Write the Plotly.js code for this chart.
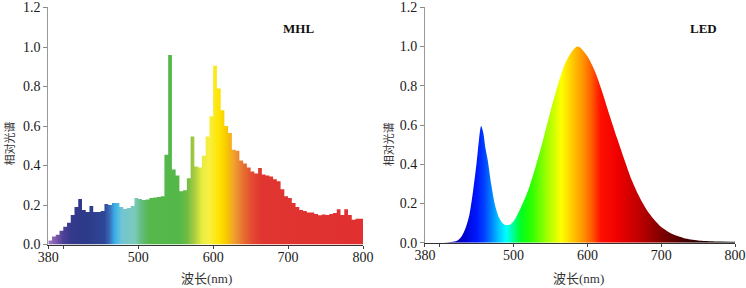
<!DOCTYPE html>
<html>
<head>
<meta charset="utf-8">
<script src="https://cdn.plot.ly/plotly-3.0.1.min.js"></script>
<style>html,body{margin:0;padding:0;background:#fff;}#chart{width:746px;height:288px;}</style>
</head>
<body>
<div id="chart"></div>
<script>
// ---------- data ----------
// MHL: relative spectrum in 5 nm bins, bin starts 380..795 nm
const mhlStart = 380;
const mhlBinWidth = 5;
const mhlValues = [
  0.02, 0.04, 0.05, 0.07, 0.09, 0.11, 0.15, 0.19, 0.23, 0.175,
  0.165, 0.195, 0.165, 0.165, 0.17, 0.205, 0.20, 0.21, 0.21, 0.19,
  0.18, 0.185, 0.195, 0.235, 0.23, 0.225, 0.228, 0.235, 0.238, 0.24,
  0.245, 0.455, 0.96, 0.38, 0.35, 0.27, 0.275, 0.335, 0.547, 0.395,
  0.39, 0.45, 0.547, 0.65, 0.905, 0.79, 0.68, 0.60, 0.565, 0.48,
  0.475, 0.425, 0.41, 0.39, 0.37, 0.36, 0.388, 0.355, 0.35, 0.345,
  0.33, 0.32, 0.28, 0.245, 0.235, 0.21, 0.19, 0.175, 0.17, 0.162,
  0.162, 0.155, 0.148, 0.152, 0.15, 0.155, 0.16, 0.178, 0.15, 0.178,
  0.15, 0.125, 0.13, 0.13
];
// LED: relative spectrum sampled at wavelengths
const ledWavelengths = [380, 400, 410, 420, 425, 430, 435, 440, 445, 450, 453, 456, 459, 462, 465, 470, 475, 480, 485, 490, 495, 500, 510, 520, 530, 540, 550, 560, 570, 580, 586, 590, 600, 610, 620, 630, 640, 650, 660, 670, 680, 690, 700, 710, 720, 730, 740, 750, 760, 780, 800];
const ledValues      = [0.0, 0.0, 0.002, 0.006, 0.014, 0.035, 0.075, 0.14, 0.26, 0.41, 0.52, 0.595, 0.56, 0.48, 0.42, 0.29, 0.19, 0.13, 0.10, 0.09, 0.092, 0.11, 0.18, 0.27, 0.39, 0.525, 0.67, 0.805, 0.915, 0.98, 1.0, 0.995, 0.95, 0.875, 0.77, 0.65, 0.535, 0.425, 0.32, 0.237, 0.17, 0.12, 0.08, 0.055, 0.037, 0.025, 0.017, 0.012, 0.009, 0.006, 0.005];

const xTickVals = [380, 400, 500, 600, 700, 800];
const xTickText = ['380', '', '500', '600', '700', '800'];
const yTickVals = [0, 0.2, 0.4, 0.6, 0.8, 1.0, 1.2];
const yTickText = ['0.0', '0.2', '0.4', '0.6', '0.8', '1.0', '1.2'];

// colour stops (wavelength -> colour)
const mhlStopNm  = [380, 390, 400, 410, 430, 455, 462, 468, 472, 478, 495, 505, 515, 555, 565, 575, 585, 595, 608, 618, 628, 640, 652, 665, 800];
const mhlStopCol = ['#a27ec2', '#7c5aaa', '#4c4096', '#35398c', '#2c3a88', '#2f4696', '#3a6cb8', '#3aaae6', '#4ab8e6', '#72c4d2', '#7ccabc', '#62bc7a', '#56b84c', '#54b848', '#6cbc44', '#a8cc40', '#e8ec40', '#f8f040', '#ffe400', '#f8c800', '#f0a030', '#e87030', '#e24a30', '#e03530', '#e03030'];
const ledStopNm  = [380, 410, 430, 450, 460, 470, 480, 490, 500, 510, 525, 545, 565, 580, 595, 605, 618, 640, 670, 700, 730, 760, 800];
const ledStopCol = ['#300050', '#2000a0', '#0000c8', '#0018ff', '#0040ff', '#0080ff', '#00c8ff', '#00ffff', '#00ff90', '#00ff20', '#30ff00', '#a0ff00', '#ffff00', '#ffc800', '#ff9000', '#ff6000', '#ff1000', '#f00000', '#c00000', '#800000', '#4a0000', '#200000', '#000000'];

const X_MIN = 380, X_MAX = 800;
function scale(nm, cols) {
  return nm.map((v, i) => [(v - X_MIN) / (X_MAX - X_MIN), cols[i]]);
}

// step outline for MHL bins
const mhlX = mhlValues.map((v, i) => mhlStart + i * mhlBinWidth);
mhlX.push(mhlStart + mhlValues.length * mhlBinWidth);
const mhlY = mhlValues.slice();
mhlY.push(mhlValues[mhlValues.length - 1]);

const traces = [
  {
    type: 'scatter', mode: 'lines', x: mhlX, y: mhlY, xaxis: 'x', yaxis: 'y',
    line: {shape: 'hv', width: 0, color: 'rgba(0,0,0,0)'},
    fill: 'tozeroy',
    fillgradient: {type: 'horizontal', start: X_MIN, stop: X_MAX, colorscale: scale(mhlStopNm, mhlStopCol)},
    hoverinfo: 'skip', showlegend: false
  },
  {
    type: 'scatter', mode: 'lines', x: ledWavelengths, y: ledValues, xaxis: 'x2', yaxis: 'y2',
    line: {shape: 'spline', smoothing: 0.8, width: 0, color: 'rgba(0,0,0,0)'},
    fill: 'tozeroy',
    fillgradient: {type: 'horizontal', start: X_MIN, stop: X_MAX, colorscale: scale(ledStopNm, ledStopCol)},
    hoverinfo: 'skip', showlegend: false
  }
];

const FAM = 'Liberation Serif, Times New Roman, Noto Sans CJK SC, serif';
const font = {family: FAM, size: 14, color: '#1a1a1a'};
function xa(domain, anchor) {
  return {
    domain: domain, anchor: anchor, range: [X_MIN, X_MAX],
    tickmode: 'array', tickvals: xTickVals, ticktext: xTickText,
    ticks: 'outside', ticklen: 3, tickcolor: '#444', tickwidth: 1,
    ticklabelstandoff: -4,
    showline: true, linecolor: '#333', linewidth: 1.5,
    showgrid: false, zeroline: false, tickfont: font, fixedrange: true
  };
}
function ya(domain, anchor) {
  return {
    domain: domain, anchor: anchor, range: [0, 1.2004],
    tickmode: 'array', tickvals: yTickVals, ticktext: yTickText,
    ticks: 'outside', ticklen: 4, tickcolor: '#888', tickwidth: 1,
    showline: true, linecolor: '#999', linewidth: 1,
    showgrid: false, zeroline: false, tickfont: font, fixedrange: true
  };
}

function note(text, x, y, size, color, angle) {
  return {text: text, x: x, y: y, xref: 'paper', yref: 'paper', xanchor: 'center', yanchor: 'middle',
          showarrow: false, textangle: angle || 0, font: {family: FAM, size: size, color: color}};
}

const layout = {
  width: 746, height: 288,
  margin: {l: 0, r: 0, t: 0, b: 0},
  paper_bgcolor: '#fff', plot_bgcolor: '#fff',
  font: font,
  xaxis: xa([0.0647, 0.4866], 'y'),
  yaxis: ya([0.151, 0.974], 'x'),
  xaxis2: xa([0.5697, 0.9853], 'y2'),
  yaxis2: ya([0.157, 0.975], 'x2'),
  annotations: [
    note('<b>MHL</b>', 0.400, 0.902, 13, '#111'),
    note('<b>LED</b>', 0.943, 0.902, 13, '#111'),
    note('波长(nm)', 0.277, 0.034, 13, '#333'),
    note('波长(nm)', 0.775, 0.034, 13, '#333'),
    note('相对光谱', 0.0115, 0.50, 11, '#333', -90),
    note('相对光谱', 0.5205, 0.50, 11, '#333', -90)
  ]
};

Plotly.newPlot('chart', traces, layout, {staticPlot: true, displayModeBar: false});
</script>
</body>
</html>
